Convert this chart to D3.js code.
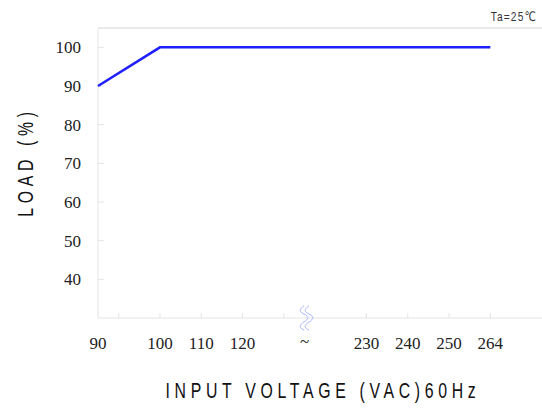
<!DOCTYPE html>
<html>
<head>
<meta charset="utf-8">
<script src="https://cdn.jsdelivr.net/npm/d3@7"></script>
<style>
  body { margin: 0; background: #fff; }
  svg { display: block; }
</style>
</head>
<body>
<div id="chart"></div>
<script>
// curve data
const voltage = [90, 100, 264];
const load = [90, 100, 100];

// axis ticks
const yTicks = [40, 50, 60, 70, 80, 90, 100];
const xTickLabels = ["90", "100", "110", "120", "~", "230", "240", "250", "264"];
const xTickVolts = [90, 100, 110, 120, 175, 230, 240, 250, 264];

const width = 542;
const height = 414;
const margin = { top: 28, right: 0, bottom: 96, left: 98 };

const svg = d3.select("#chart")
  .append("svg")
  .attr("width", width)
  .attr("height", height);

// broken voltage axis: each labelled step is one slot, break in the middle
const slot = d3.scaleLinear()
  .domain([90, 100, 120, 230, 250, 264])
  .range([0, 1.5, 3.5, 6.5, 8.5, 9.5]);

const xs = d3.scaleLinear()
  .domain([0, 10])
  .range([margin.left, margin.left + 413]);

const x = v => xs(slot(v));

const y = d3.scaleLinear()
  .domain([30, 105])
  .range([height - margin.bottom, margin.top]);

const grid = "#e4e4e4";
const serif = "'Liberation Serif', 'Times New Roman', 'DejaVu Serif', serif";
const narrow = "'Liberation Sans', 'DejaVu Sans', sans-serif";

// frame: top line, left axis, bottom axis
svg.append("line")
  .attr("x1", margin.left).attr("x2", width)
  .attr("y1", y(105)).attr("y2", y(105))
  .attr("stroke", grid).attr("stroke-width", 1.5);
svg.append("line")
  .attr("x1", margin.left).attr("x2", margin.left)
  .attr("y1", y(105)).attr("y2", y(30))
  .attr("stroke", grid).attr("stroke-width", 1);
svg.append("line")
  .attr("x1", margin.left).attr("x2", width)
  .attr("y1", y(30)).attr("y2", y(30))
  .attr("stroke", grid).attr("stroke-width", 1);

// y ticks + labels
svg.selectAll(".ytick")
  .data(yTicks)
  .enter()
  .append("line")
  .attr("x1", margin.left).attr("x2", margin.left + 6)
  .attr("y1", d => y(d)).attr("y2", d => y(d))
  .attr("stroke", grid);

svg.selectAll(".ylab")
  .data(yTicks)
  .enter()
  .append("text")
  .attr("x", 81)
  .attr("y", d => y(d) + 6)
  .attr("text-anchor", "end")
  .style("font-family", serif)
  .style("font-size", "17px")
  .attr("fill", "#222")
  .text(d => d);

// x tick marks sit between slots, none at the break
const tickSlots = d3.range(0.5, 10, 1).filter(s => s !== 5.5);
svg.selectAll(".xtick")
  .data(tickSlots)
  .enter()
  .append("line")
  .attr("x1", d => xs(d)).attr("x2", d => xs(d))
  .attr("y1", y(30) - 5).attr("y2", y(30))
  .attr("stroke", grid);

svg.selectAll(".xlab")
  .data(xTickLabels)
  .enter()
  .append("text")
  .attr("x", (d, i) => x(xTickVolts[i]))
  .attr("y", d => d === "~" ? 347 : 349)
  .attr("text-anchor", "middle")
  .style("font-family", serif)
  .style("font-size", "17px")
  .attr("fill", "#222")
  .text(d => d);

// break symbol
const bx = x(175) + 2;
const by = y(30) - 1;
[-2.5, 2.5].forEach(dx => {
  svg.append("path")
    .attr("d", `M${bx + dx},${by - 11} c-5,3 -5,6 0,8 c5,2 5,5 0,8 c-5,3 -5,6 0,8`)
    .attr("fill", "none")
    .attr("stroke", "#a8b4ff")
    .attr("stroke-width", 1);
});

// curve
const line = d3.line()
  .x((d, i) => x(voltage[i]))
  .y(d => y(d));

svg.append("path")
  .datum(load)
  .attr("d", line)
  .attr("fill", "none")
  .attr("stroke", "#1f1fff")
  .attr("stroke-width", 2.5);

// titles (condensed by a horizontal squeeze)
svg.append("text")
  .attr("transform", "translate(323,398) scale(0.72,1)")
  .attr("text-anchor", "middle")
  .style("font-family", narrow)
  .style("font-size", "22px")
  .attr("letter-spacing", 6.5)
  .attr("fill", "#111")
  .text("INPUT VOLTAGE (VAC)60Hz");

svg.append("text")
  .attr("transform", "translate(33,162) rotate(-90) scale(0.72,1)")
  .attr("text-anchor", "middle")
  .style("font-family", narrow)
  .style("font-size", "22px")
  .attr("letter-spacing", 6.5)
  .attr("fill", "#111")
  .text("LOAD (%)");

svg.append("text")
  .attr("transform", "translate(537,21) scale(0.78,1)")
  .attr("text-anchor", "end")
  .style("font-family", narrow)
  .style("font-size", "13px")
  .attr("letter-spacing", 1.5)
  .attr("fill", "#333")
  .text("Ta=25℃");
</script>
</body>
</html>
